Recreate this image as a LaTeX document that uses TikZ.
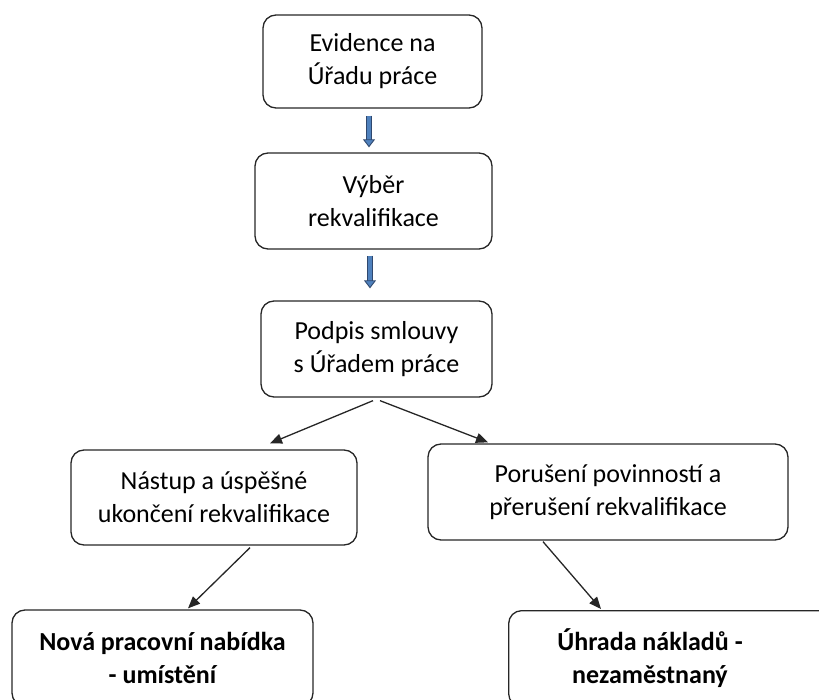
\documentclass[tikz,border=0pt]{standalone}
\usepackage{fontspec}
\setmainfont{Carlito}
\usetikzlibrary{arrows.meta}
\definecolor{BoxLine}{RGB}{38,38,38}
\definecolor{ArrowFill}{RGB}{79,129,189}
\definecolor{ArrowEdge}{RGB}{47,72,110}

\begin{document}
\begin{tikzpicture}[x=1pt, y=-1pt,
	krok/.style={draw=BoxLine, line width=1.3pt, rounded corners=13pt, align=center, inner sep=0pt, font=\fontsize{26}{33}\selectfont},
	vysledek/.style={krok, font=\bfseries\fontsize{26}{33}\selectfont},
	modra/.style={draw=ArrowEdge, line width=0.9pt, double=ArrowFill, double distance=4.5pt, -{Triangle[length=8pt, width=12pt, fill=ArrowFill]}},
	cerna/.style={draw=BoxLine, line width=1.3pt, -{Triangle[length=12pt, width=10pt]}}]
	\useasboundingbox (0,0) rectangle (819,700);
	\node[krok, minimum width=219pt, minimum height=93pt] (evidence) at (372.5,61.5) {Evidence na\\Úřadu práce};
	\node[krok, minimum width=237pt, minimum height=96pt] (vyber) at (373.5,201) {Výběr\\rekvalifikace};
	\node[krok, minimum width=231pt, minimum height=96pt] (podpis) at (376.5,349) {Podpis smlouvy\\s Úřadem práce};
	\node[krok, minimum width=286pt, minimum height=95pt] (nastup) at (214,497.5) {Nástup a úspěšné\\ukončení rekvalifikace};
	\node[krok, minimum width=360pt, minimum height=96pt] (poruseni) at (608,492) {Porušení povinností a\\přerušení rekvalifikace};
	\node[vysledek, minimum width=301pt, minimum height=96pt] (nabidka) at (162.5,658) {Nová pracovní nabídka\\- umístění};
	\node[krok, minimum width=340pt, minimum height=96pt, anchor=north west] (naklady) at (508,610) {};
	\node[font=\bfseries\fontsize{26}{33}\selectfont, align=center, inner sep=0pt] (nakladytext) at (650,658) {Úhrada nákladů -\\nezaměstnaný};
	% modre sipky
	\foreach \a/\b/\da/\db/\s/\e in {evidence/vyber/-3.5/-4.5/7/5, vyber/podpis/-3.5/-6.5/6/12}
	\draw[modra, shorten <=\s pt, shorten >=\e pt] ([xshift=\da pt]\a.south) -- ([xshift=\db pt]\b.north);
	% cerne sipky
	\draw[cerna] ([xshift=-3.5pt, yshift=-3pt]podpis.south) -- ([xshift=56pt, yshift=6pt]nastup.north);
	\draw[cerna] ([xshift=3.5pt, yshift=-3pt]podpis.south) -- ([xshift=-120pt, yshift=1pt]poruseni.north);
	\draw[cerna] ([xshift=36pt, yshift=-2pt]nastup.south) -- ([xshift=25.5pt, yshift=1pt]nabidka.north);
	\draw[cerna] ([xshift=-65pt, yshift=-1pt]poruseni.south) -- ([xshift=93pt, yshift=1pt]naklady.north west);
\end{tikzpicture}
\end{document}
